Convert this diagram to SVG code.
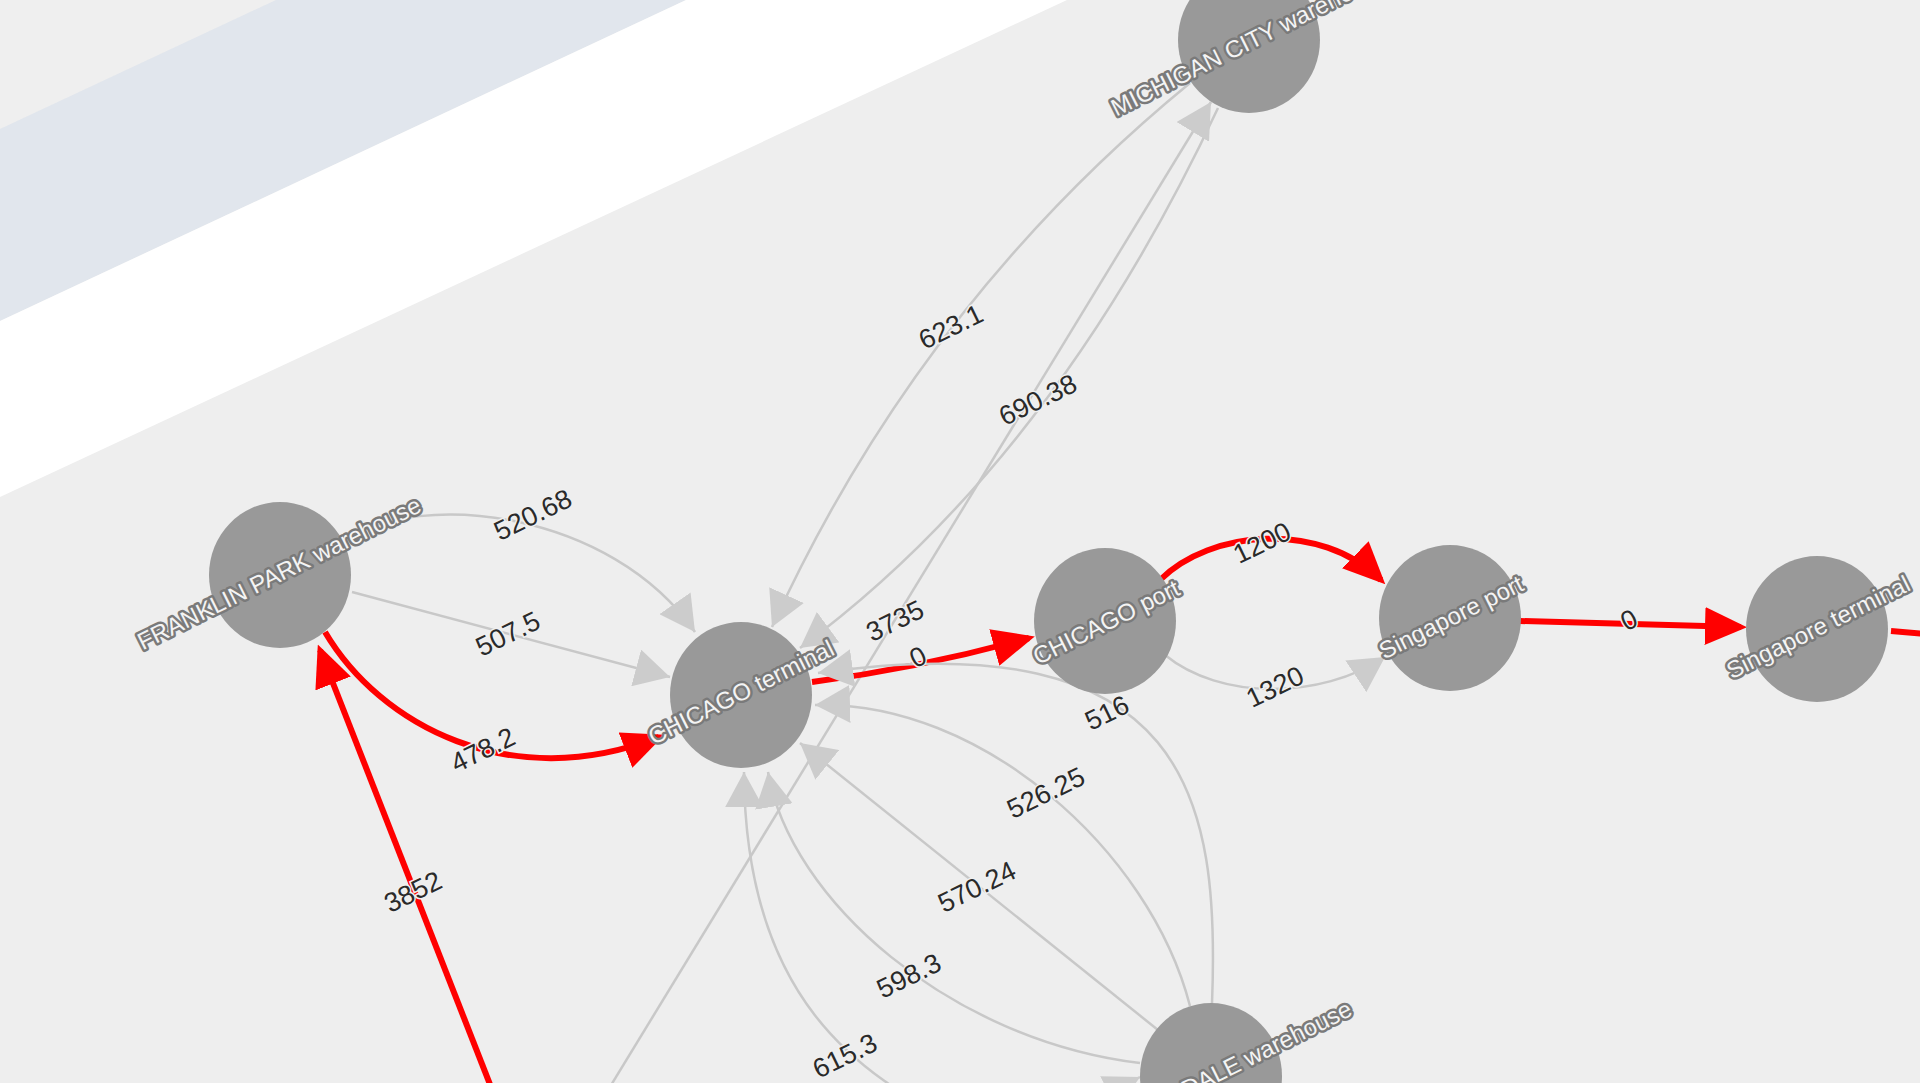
<svg xmlns="http://www.w3.org/2000/svg" width="1920" height="1083" viewBox="0 0 1920 1083">
<style>
.edge{fill:none;stroke:#c8c8c8;stroke-width:2.5}
.hot{fill:none;stroke:#ff0000;stroke-width:6}
.el{font-family:"Liberation Sans",Arial,sans-serif;font-size:27px;fill:#2a2a2a;stroke:#f0f0f0;stroke-width:3;paint-order:stroke;text-anchor:middle;dominant-baseline:central}
.nd{fill:#999999}
.nl{font-family:"Liberation Sans",Arial,sans-serif;font-size:24px;fill:#f4f4f4;stroke:#7a7a7a;stroke-width:5;stroke-linejoin:round;paint-order:stroke;text-anchor:middle;dominant-baseline:central}
</style>
<defs>
<marker id="ag" markerUnits="userSpaceOnUse" viewBox="0 0 35 38" refX="35" refY="19" markerWidth="35" markerHeight="38" orient="auto"><path d="M0,0 L35,19 L0,38 Z" fill="#cccccc"/></marker>
<marker id="ar" markerUnits="userSpaceOnUse" viewBox="0 0 42 38" refX="36" refY="19" markerWidth="42" markerHeight="38" orient="auto"><path d="M0,0 L42,19 L0,38 Z" fill="#ff0000"/></marker>
</defs>
<g id="background">
<rect x="0" y="0" width="1920" height="1083" fill="#eeeeee"/>
<polygon points="0,0 276,0 0,129" fill="#efefef"/>
<polygon points="276,0 686,0 0,321 0,129" fill="#e1e6ed"/>
<polygon points="686,0 1067,0 0,497 0,321" fill="#ffffff"/>
</g>
<g id="connectors">
<path class="edge" d="M345,540 C420,490 610,510 695,632" marker-end="url(#ag)"/>
<path class="edge" d="M352,592 L670,677" marker-end="url(#ag)"/>
<path class="hot" d="M325,632 C380,725 510,795 659,737" marker-end="url(#ar)"/>
<path class="hot" d="M500,1110 L320,650" marker-end="url(#ar)"/>
<path class="edge" d="M1190,83 Q919,305 772,627" marker-end="url(#ag)"/>
<path class="edge" d="M1218,108 Q1052,462 800,648" marker-end="url(#ag)"/>
<path class="edge" d="M580,1136 L1211,102" marker-end="url(#ag)"/>
<path class="hot" d="M812,682 Q920,668 1029,638" marker-end="url(#ar)"/>
<path class="hot" d="M1160,580 C1210,530 1320,520 1381,580" marker-end="url(#ar)"/>
<path class="edge" d="M1165,655 C1220,700 1320,700 1385,657" marker-end="url(#ag)"/>
<path class="hot" d="M1520,621 L1741,627" marker-end="url(#ar)"/>
<path class="hot" d="M1891,631 L1925,634"/>
<path class="edge" d="M1212,1004 C1220,800 1190,620 818,673" marker-end="url(#ag)"/>
<path class="edge" d="M1190,1006 C1150,850 980,700 815,705" marker-end="url(#ag)"/>
<path class="edge" d="M1158,1030 L800,743" marker-end="url(#ag)"/>
<path class="edge" d="M1140,1063 C950,1040 790,900 768,772" marker-end="url(#ag)"/>
<path class="edge" d="M960,1125 C860,1075 745,1000 744,772" marker-end="url(#ag)"/>
<path class="edge" d="M950,1175 L1140,1077" marker-end="url(#ag)"/>
<text class="el" x="533" y="515" transform="rotate(-26 533 515)">520.68</text>
<text class="el" x="508" y="634" transform="rotate(-26 508 634)">507.5</text>
<text class="el" x="483" y="750" transform="rotate(-26 483 750)">478.2</text>
<text class="el" x="413" y="892" transform="rotate(-26 413 892)">3852</text>
<text class="el" x="951" y="327" transform="rotate(-26 951 327)">623.1</text>
<text class="el" x="1038" y="400" transform="rotate(-26 1038 400)">690.38</text>
<text class="el" x="895" y="621" transform="rotate(-26 895 621)">3735</text>
<text class="el" x="918" y="657" transform="rotate(-26 918 657)">0</text>
<text class="el" x="1262" y="543" transform="rotate(-26 1262 543)">1200</text>
<text class="el" x="1275" y="687" transform="rotate(-26 1275 687)">1320</text>
<text class="el" x="1629" y="620" transform="rotate(-26 1629 620)">0</text>
<text class="el" x="1107" y="713" transform="rotate(-26 1107 713)">516</text>
<text class="el" x="1046" y="793" transform="rotate(-26 1046 793)">526.25</text>
<text class="el" x="977" y="887" transform="rotate(-26 977 887)">570.24</text>
<text class="el" x="909" y="976" transform="rotate(-26 909 976)">598.3</text>
<text class="el" x="845" y="1056" transform="rotate(-26 845 1056)">615.3</text>
</g>
<g id="node-franklin-park">
<ellipse class="nd" cx="280" cy="575" rx="71" ry="73"/>
<text class="nl" x="279" y="573" transform="rotate(-26.5 279 573)">FRANKLIN PARK warehouse</text>
</g>
<g id="node-chicago-terminal">
<ellipse class="nd" cx="741" cy="695" rx="71" ry="73"/>
<text class="nl" x="741" y="692" transform="rotate(-26.5 741 692)">CHICAGO terminal</text>
</g>
<g id="node-chicago-port">
<ellipse class="nd" cx="1105" cy="621" rx="71" ry="73"/>
<text class="nl" x="1106" y="622" transform="rotate(-26.5 1106 622)">CHICAGO port</text>
</g>
<g id="node-singapore-port">
<ellipse class="nd" cx="1450" cy="618" rx="71" ry="73"/>
<text class="nl" x="1451" y="617" transform="rotate(-26.5 1451 617)">Singapore port</text>
</g>
<g id="node-singapore-terminal">
<ellipse class="nd" cx="1817" cy="629" rx="71" ry="73"/>
<text class="nl" x="1818" y="627" transform="rotate(-26.5 1818 627)">Singapore terminal</text>
</g>
<g id="node-michigan-city">
<ellipse class="nd" cx="1249" cy="40" rx="71" ry="73"/>
<text class="nl" x="1249" y="41" transform="rotate(-26.5 1249 41)">MICHIGAN CITY warehouse</text>
</g>
<g id="node-dale-warehouse">
<ellipse class="nd" cx="1211" cy="1076" rx="71" ry="73"/>
<text class="nl" x="1350" y="1007" style="text-anchor:end" transform="rotate(-26.5 1350 1007)">DALE warehouse</text>
</g>
</svg>
